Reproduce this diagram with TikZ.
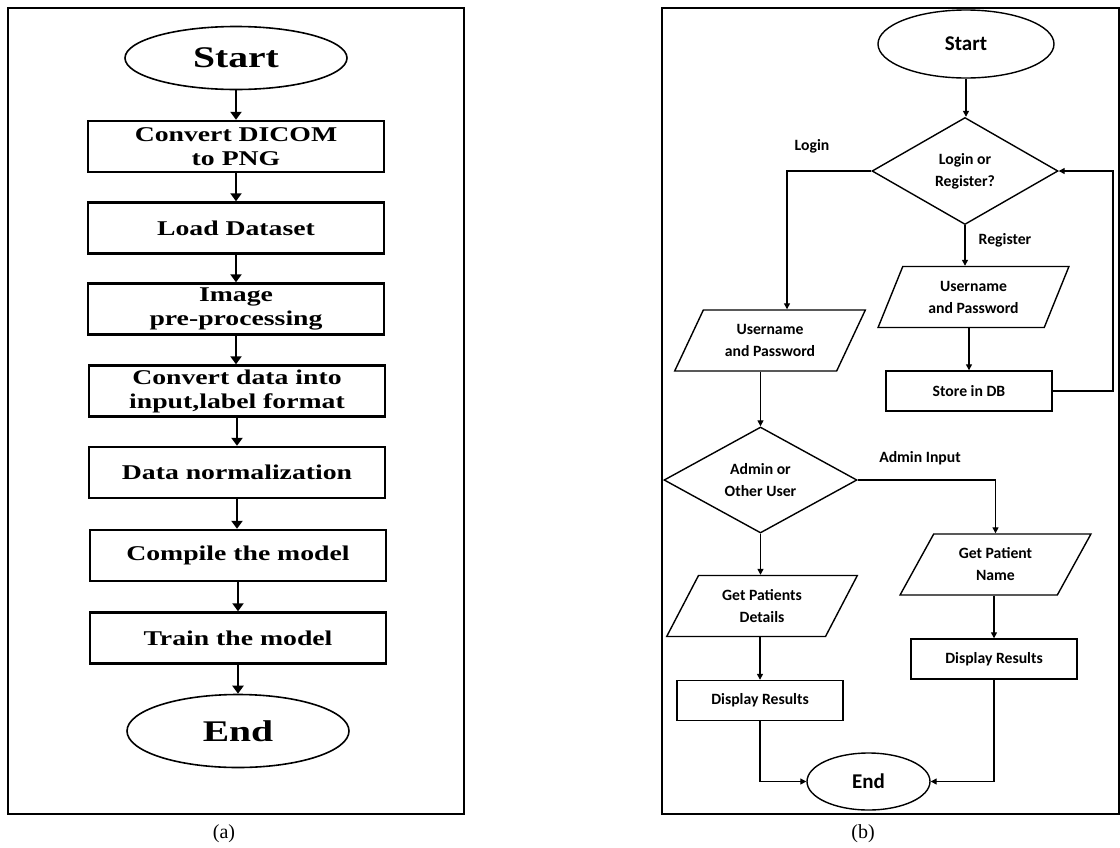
\documentclass[tikz,border=0pt]{standalone}
\usepackage{fontspec}
\setmainfont{Liberation Serif}
\newfontfamily\wideserif[FakeStretch=1.32]{Liberation Serif}
\newfontfamily\calib{Carlito}
\usetikzlibrary{shapes.geometric,arrows.meta}
\tikzset{
  panel/.style={draw,line width=1.3pt},
  procbox/.style={draw,line width=2.4pt,minimum width=296pt,minimum height=51pt,inner sep=0pt,
    align=center,font=\wideserif\bfseries\fontsize{21}{24}\selectfont},
  termbox/.style={draw,ellipse,line width=1.6pt,inner sep=0pt,font=\wideserif\bfseries\fontsize{30}{34}\selectfont},
  arrA/.style={line width=2.6pt,-{Triangle[length=8pt,width=11pt]}},
  flowbox/.style={draw,line width=1.4pt,minimum width=166pt,minimum height=40pt,inner sep=0pt,
    align=center,font=\calib\bfseries\fontsize{15.7}{22}\selectfont},
  decbox/.style={draw,diamond,line width=1.4pt,aspect=1.75,inner sep=0pt,
    align=center,font=\calib\bfseries\fontsize{15.7}{22}\selectfont},
  iobox/.style={draw,trapezium,trapezium left angle=59,trapezium right angle=121,trapezium stretches=true,
    line width=1.4pt,minimum width=191pt,minimum height=61pt,inner sep=0pt,
    align=center,font=\calib\bfseries\fontsize{15.7}{22}\selectfont},
  endbox/.style={draw,ellipse,line width=1.4pt,inner sep=0pt,font=\calib\bfseries\fontsize{21}{24}\selectfont},
  lbl/.style={font=\calib\bfseries\fontsize{15.7}{18}\selectfont},
  arrB/.style={line width=1.3pt,-{Triangle[length=6pt,width=6pt]}},
  capt/.style={font=\fontsize{20}{22}\selectfont}
}
\begin{document}
\begin{tikzpicture}[x=1pt,y=-1pt]
\useasboundingbox (0,0) rectangle (1120,847);
% panel (a)
\draw[panel] (8,8) rectangle (464,814);
\node[termbox,minimum width=222pt,minimum height=63pt] (startA) at (236,58) {Start};
\node[procbox] (convert) at (236,146.5) {Convert DICOM\\to PNG};
\node[procbox] (load) at (236,228) {Load Dataset};
\node[procbox] (preproc) at (236,309) {Image\\pre-processing};
\node[procbox] (format) at (237,391) {Convert data into\\input,label format};
\node[procbox] (norm) at (237,472.5) {Data normalization};
\node[procbox] (compile) at (238,555.5) {Compile the model};
\node[procbox] (train) at (238,638) {Train the model};
\node[termbox,minimum width=222pt,minimum height=73pt] (endA) at (238,731) {End};
\draw[arrA] (startA.south) -- (startA.south |- convert.north);
\draw[arrA] (convert.south) -- (load.north);
\draw[arrA] (load.south) -- (preproc.north);
\draw[arrA] (preproc.south) -- (preproc.south |- format.north);
\draw[arrA] (format.south) -- (norm.north);
\draw[arrA] (norm.south) -- (norm.south |- compile.north);
\draw[arrA] (compile.south) -- (train.north);
\draw[arrA] (train.south) -- (endA.north);
\node[capt] (captA) at (224,834) {(a)};
% panel (b)
\draw[panel] (662,8) rectangle (1119,814);
\node[endbox,minimum width=176pt,minimum height=68pt] (startB) at (966,44) {Start};
\node[decbox,minimum width=186pt,minimum height=107pt] (logreg) at (965,171) {Login or\\Register?};
\node[iobox] (userL) at (770,340.5) {Username\\and Password};
\node[iobox,trapezium left angle=64,trapezium right angle=116] (userR) at (973.5,297) {Username\\and Password};
\node[flowbox] (store) at (969,391) {Store in DB};
\node[decbox,minimum width=193pt,minimum height=106pt] (admin) at (760.5,480) {Admin or\\Other User};
\node[iobox] (patname) at (995.5,564.5) {Get Patient\\Name};
\node[flowbox] (dispR) at (994,659) {Display Results};
\node[iobox] (patdet) at (762,606) {Get Patients\\Details};
\node[flowbox] (dispL) at (760,700.5) {Display Results};
\node[endbox,minimum width=123pt,minimum height=57pt] (endB) at (868.5,781.5) {End};
\node[lbl] (lbllogin) at (812,146) {Login};
\node[lbl] (lblreg) at (1005,240) {Register};
\node[lbl] (lbladmin) at (920,458) {Admin Input};
\coordinate (loginbend) at (787,171);
\coordinate (loopright) at (1113,391);
\draw[arrB] (startB.south) -- (startB.south |- logreg.north);
\draw[arrB] (logreg.west) -- (loginbend) -- (loginbend |- userL.north);
\draw[arrB] (logreg.south) -- (logreg.south |- userR.north);
\draw[arrB] (userR.south -| store.north) -- (store.north);
\draw[arrB] (store.east) -- (loopright) |- (logreg.east);
\draw[arrB] (userL.south -| admin.north) -- (admin.north);
\draw[arrB] (admin.east) -| (patname.north);
\draw[arrB] (patname.south -| dispR.north) -- (dispR.north);
\draw[arrB] (admin.south) -- (admin.south |- patdet.north);
\draw[arrB] (patdet.south -| dispL.north) -- (dispL.north);
\draw[arrB] (dispL.south) |- (endB.west);
\draw[arrB] (dispR.south) |- (endB.east);
\node[capt] (captB) at (863,834) {(b)};
\end{tikzpicture}
\end{document}
